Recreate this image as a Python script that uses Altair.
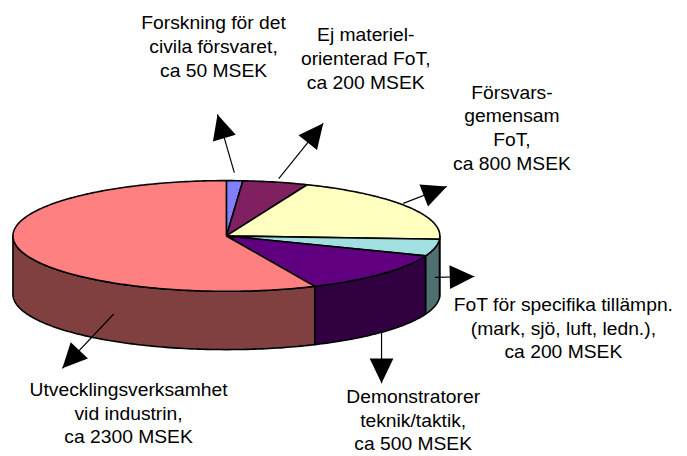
import altair as alt
import pandas as pd
import numpy as np

# ---- data ----
categories = [
    "Forskning för det\ncivila försvaret,",
    "Ej materiel-\norienterad FoT,",
    "Försvars-\ngemensam\nFoT,",
    "FoT för specifika tillämpn.\n(mark, sjö, luft, ledn.),",
    "Demonstratorer\nteknik/taktik,",
    "Utvecklingsverksamhet\nvid industrin,",
]
values = [50, 200, 800, 200, 500, 2300]
unit = "MSEK"

# ---- styles ----
top_colors = ["#8080FF", "#802060", "#FFFFC0", "#A0E0E0", "#600080", "#FF8080"]
side_colors = ["#404080", "#401030", "#808060", "#507070", "#300040", "#804040"]

# ---- layout (page pixel space) ----
CX, CY, RX, RY, DEPTH = 229, 236, 216, 56, 59
label_pos = [(216, 27), (370, 39), (518, 97), (570, 312), (418, 405), (130, 398)]
arrow_start = [(237, 172), (282, 178), (408, 203), (440, 278), (386, 332), (115, 315)]
arrow_tip = [(220, 113), (327, 122), (452, 186), (480, 277), (386, 385), (63, 370)]
HEAD_LEN = 25


def ell(theta_deg, dy=0.0):
    t = np.radians(theta_deg)
    return CX + RX * np.sin(t), CY - RY * np.cos(t) + dy


total = float(sum(values))
cum = np.concatenate([[0.0], np.cumsum(values)]) / total * 360.0

top_rows, wall_rows = [], []
for i, (a, b) in enumerate(zip(cum[:-1], cum[1:])):
    n = max(2, int(np.ceil(b - a)) + 1)
    ts = np.linspace(a, b, n)
    pts = [(CX, CY)] + [ell(t) for t in ts] + [(CX, CY)]
    for k, (x, y) in enumerate(pts):
        top_rows.append(dict(part=i, k=k, x=x, y=y, col=top_colors[i]))
    lo, hi = max(a, 90.0), min(b, 270.0)
    if hi > lo:
        n = max(2, int(np.ceil(hi - lo)) + 1)
        ts = np.linspace(lo, hi, n)
        pts = [ell(t) for t in ts] + [ell(t, DEPTH) for t in ts[::-1]]
        pts.append(pts[0])
        for k, (x, y) in enumerate(pts):
            wall_rows.append(dict(part=i, k=k, x=x, y=y, col=side_colors[i]))

tops = pd.DataFrame(top_rows)
walls = pd.DataFrame(wall_rows)

arrow_rows = []
for (sx, sy), (tx, ty) in zip(arrow_start, arrow_tip):
    dx, dy = tx - sx, ty - sy
    L = np.hypot(dx, dy)
    ux, uy = dx / L, dy / L
    ang = np.degrees(np.arctan2(ux, -uy)) % 360
    arrow_rows.append(dict(x=sx, y=sy, x2=tx, y2=ty,
                           hx=tx - ux * HEAD_LEN / 2, hy=ty - uy * HEAD_LEN / 2, ang=ang))
arrows = pd.DataFrame(arrow_rows)

labels = pd.DataFrame(dict(
    text=[f"{c}\nca {v} {unit}" for c, v in zip(categories, values)],
    x=[p[0] for p in label_pos],
    y=[p[1] for p in label_pos],
))

W, H = 679, 448
xs = alt.Scale(domain=[8, 8 + W], nice=False, zero=False)
ys = alt.Scale(domain=[8, 8 + H], nice=False, zero=False, reverse=True)


def poly_layer(df):
    return alt.Chart(df).mark_line(filled=True, stroke="black", strokeWidth=1.6,
                                   strokeJoin="round", opacity=1).encode(
        x=alt.X("x:Q", scale=xs, axis=None),
        y=alt.Y("y:Q", scale=ys, axis=None),
        order=alt.Order("k:Q"),
        detail="part:N",
        color=alt.Color("col:N", scale=None),
    )


wall_layer = poly_layer(walls)
top_layer = poly_layer(tops)

shafts = alt.Chart(arrows).mark_rule(color="black", strokeWidth=1.2).encode(
    x=alt.X("x:Q", scale=xs, axis=None),
    y=alt.Y("y:Q", scale=ys, axis=None),
    x2="x2:Q",
    y2="y2:Q",
)

heads = alt.Chart(arrows).mark_point(
    shape="M0,-1L0.96,1L-0.96,1Z", filled=True, color="black", opacity=1,
    size=HEAD_LEN ** 2, strokeWidth=0,
).encode(
    x=alt.X("hx:Q", scale=xs, axis=None),
    y=alt.Y("hy:Q", scale=ys, axis=None),
    angle=alt.Angle("ang:Q", scale=None),
)

text_layer = alt.Chart(labels).mark_text(
    font="Liberation Sans", fontSize=19.5, lineHeight=24, align="center",
    baseline="alphabetic", lineBreak="\n", color="black",
).encode(
    x=alt.X("x:Q", scale=xs, axis=None),
    y=alt.Y("y:Q", scale=ys, axis=None),
    text="text:N",
)

chart = alt.layer(wall_layer, top_layer, shafts, heads, text_layer).properties(
    width=W, height=H, padding=0, autosize="none",
    background="white",
).configure_view(stroke=None)

chart.save("out.html", embed_options={"renderer": "svg", "actions": False})
